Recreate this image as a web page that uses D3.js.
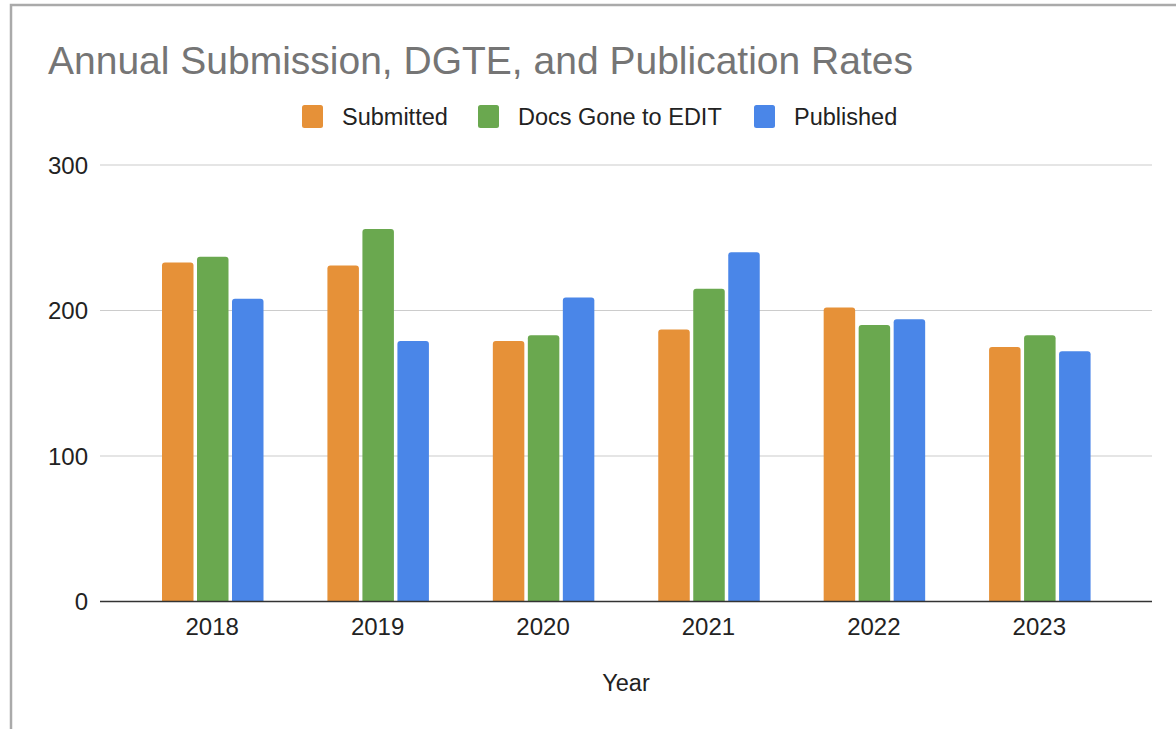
<!DOCTYPE html>
<html>
<head>
<meta charset="utf-8">
<script src="https://cdn.jsdelivr.net/npm/d3@7"></script>
<style>
  html, body { margin: 0; padding: 0; background: #fff; }
  svg { display: block; font-family: "Liberation Sans", Arial, sans-serif; }
</style>
</head>
<body>
<svg id="chart" width="1176" height="729"></svg>
<script>
const years = ["2018", "2019", "2020", "2021", "2022", "2023"];
const seriesNames = ["Submitted", "Docs Gone to EDIT", "Published"];
const submitted = [233, 231, 179, 187, 202, 175];
const docsGoneToEdit = [237, 256, 183, 215, 190, 183];
const published = [208, 179, 209, 240, 194, 172];
const yTicks = [0, 100, 200, 300];

const colors = {
  "Submitted": "#e69138",
  "Docs Gone to EDIT": "#6aa84f",
  "Published": "#4a86e8",
}

const table = years.map((y, i) => ({
  year: y,
  values: [submitted[i], docsGoneToEdit[i], published[i]]
}));

const svg = d3.select("#chart");

// frame
svg.append("path")
  .attr("d", "M11,729 V5 H1176")
  .attr("fill", "none")
  .attr("stroke", "#aaa")
  .attr("stroke-width", 2.5);

const x0 = d3.scaleBand()
  .domain(years)
  .range([129.5, 1122]);

const x1 = d3.scaleBand()
  .domain(seriesNames)
  .range([32.5, 134])
  .paddingInner(0.1);

const y = d3.scaleLinear()
  .domain([0, 300])
  .range([601.5, 165]);

// title
svg.append("text")
  .attr("x", 48)
  .attr("y", 74)
  .attr("fill", "#757575")
  .attr("font-size", "39px")
  .text("Annual Submission, DGTE, and Publication Rates");

// legend
const legendX = [302, 478, 754];
const legend = svg.selectAll(".legend")
  .data(seriesNames)
  .enter()
  .append("g")
  .attr("class", "legend")
  .attr("transform", (d, i) => `translate(${legendX[i]}, 105)`);

legend.append("rect")
  .attr("width", 21)
  .attr("height", 23)
  .attr("rx", 2.5)
  .attr("fill", d => colors[d]);

legend.append("text")
  .attr("x", 40)
  .attr("y", 11.5)
  .attr("dominant-baseline", "central")
  .attr("font-size", "23.5px")
  .attr("fill", "#222")
  .text(d => d);

// grid
svg.append("g")
  .selectAll("line")
  .data(yTicks.filter(t => t > 0))
  .enter()
  .append("line")
  .attr("x1", 100)
  .attr("x2", 1152)
  .attr("y1", d => y(d))
  .attr("y2", d => y(d))
  .attr("stroke", "#ccc")
  .attr("stroke-width", 1.2);

// y labels
svg.append("g")
  .selectAll("text")
  .data(yTicks)
  .enter()
  .append("text")
  .attr("x", 88)
  .attr("y", d => y(d))
  .attr("text-anchor", "end")
  .attr("dominant-baseline", "central")
  .attr("font-size", "24px")
  .attr("fill", "#222")
  .text(d => d);

// bars with rounded tops
const r = 3;
const topRounded = (x, yTop, w, yBase) => {
  const rr = Math.min(r, (yBase - yTop) / 2);
  return `M${x},${yBase} V${yTop + rr} Q${x},${yTop} ${x + rr},${yTop} H${x + w - rr} Q${x + w},${yTop} ${x + w},${yTop + rr} V${yBase} Z`;
};

const groups = svg.append("g")
  .selectAll("g")
  .data(table)
  .enter()
  .append("g")
  .attr("transform", d => `translate(${x0(d.year)}, 0)`);

groups.selectAll("path")
  .data(d => d.values.map((v, i) => ({ name: seriesNames[i], value: v })))
  .enter()
  .append("path")
  .attr("fill", d => colors[d.name])
  .attr("d", d => topRounded(x1(d.name), y(d.value), x1.bandwidth(), y(0)));

// baseline
svg.append("line")
  .attr("x1", 100)
  .attr("x2", 1152)
  .attr("y1", y(0))
  .attr("y2", y(0))
  .attr("stroke", "#333")
  .attr("stroke-width", 1.6);

// x labels
svg.append("g")
  .selectAll("text")
  .data(years)
  .enter()
  .append("text")
  .attr("x", d => x0(d) + x0.bandwidth() / 2)
  .attr("y", 626)
  .attr("text-anchor", "middle")
  .attr("dominant-baseline", "central")
  .attr("font-size", "24px")
  .attr("fill", "#222")
  .text(d => d);

svg.append("text")
  .attr("x", 626)
  .attr("y", 683)
  .attr("text-anchor", "middle")
  .attr("dominant-baseline", "central")
  .attr("font-size", "23.5px")
  .attr("fill", "#222")
  .text("Year");
</script>
</body>
</html>
